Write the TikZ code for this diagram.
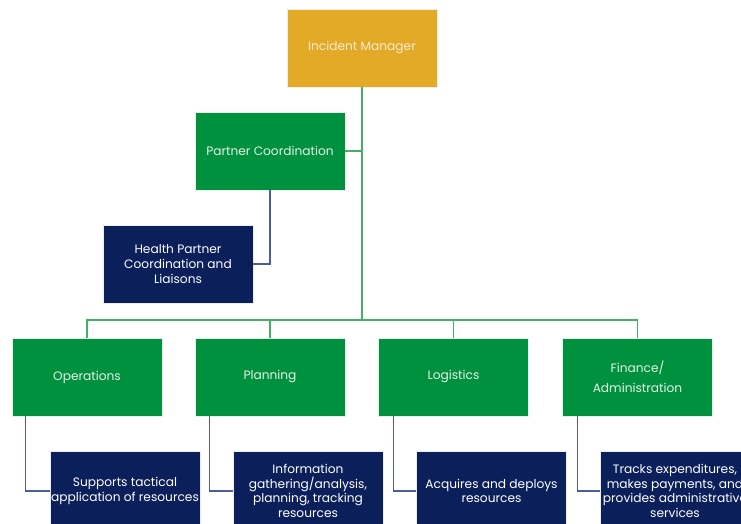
\documentclass[tikz,border=0pt]{standalone}
\usepackage{fontspec}
\setmainfont{Poppins}
\definecolor{gold}{HTML}{E3AA27}
\definecolor{grn}{HTML}{00913F}
\definecolor{navy}{HTML}{0B1F5B}
\definecolor{gline}{HTML}{45B065}
\definecolor{bline}{HTML}{4C5C9C}
\definecolor{goldtxt}{HTML}{F8EBD0}
\definecolor{grntxt}{HTML}{E6F2E8}
\tikzset{
  box/.style={rectangle, minimum width=150pt, minimum height=78pt, draw=white!85!gray, line width=0.6pt, align=center, font=\fontsize{12.2}{14.6}\selectfont, inner sep=0pt},
  goldbox/.style={box, fill=gold, text=goldtxt},
  grnbox/.style={box, fill=grn, text=grntxt},
  navybox/.style={box, fill=navy, text=white, minimum height=80pt},
  gconn/.style={draw=gline, line width=1.6pt},
  bconn/.style={draw=bline, line width=1.3pt},
}
\begin{document}
\begin{tikzpicture}[x=1pt,y=-1pt]
\useasboundingbox (0,0) rectangle (741,524);
\clip (0,0) rectangle (741,524);
\fill[white] (0,0) rectangle (741,524);
% nodes
\node[goldbox] (im) at (362,48) {Incident Manager};
\node[grnbox] (pc) at (270,151) {Partner Coordination};
\node[navybox, minimum height=78pt] (hp) at (178,264) {Health Partner\\Coordination and\\Liaisons};
\node[grnbox] (ops) at (87,377) {Operations};
\node[grnbox] (pln) at (270,377) {Planning};
\node[grnbox] (log) at (453.5,377) {Logistics};
\node[grnbox] (fin) at (637.5,377) {Finance/\\[5pt]Administration};
\node[navybox] (opsd) at (125,491) {Supports tactical\\application of resources};
\node[navybox] (plnd) at (308,491) {Information\\gathering/analysis,\\planning, tracking\\resources};
\node[navybox] (logd) at (491.5,491) {Acquires and deploys\\resources};
\node[navybox] (find) at (675,491) {Tracks expenditures,\\makes payments, and\\provides administrative\\services};
\coordinate (bus) at (0,320);
% green connectors
\draw[gconn] (im.south) -- (im.south |- bus);
\draw[gconn] (pc.east) -- (pc.east -| im.south);
\draw[gconn] (ops.north) |- (bus -| im.south);
\draw[gconn] (pln.north) -- (pln.north |- bus);
\draw[gconn] (log.north) -- (log.north |- bus);
\draw[gconn] (fin.north) |- (bus -| im.south);
% blue connectors
\draw[bconn] (pc.south) |- (hp.east);
\draw[bconn] ([xshift=14pt]ops.south west) |- (opsd.west);
\draw[bconn] ([xshift=15pt]pln.south west) |- (plnd.west);
\draw[bconn] ([xshift=15pt]log.south west) |- (logd.west);
\draw[bconn] ([xshift=15pt]fin.south west) |- (find.west);
\end{tikzpicture}
\end{document}
